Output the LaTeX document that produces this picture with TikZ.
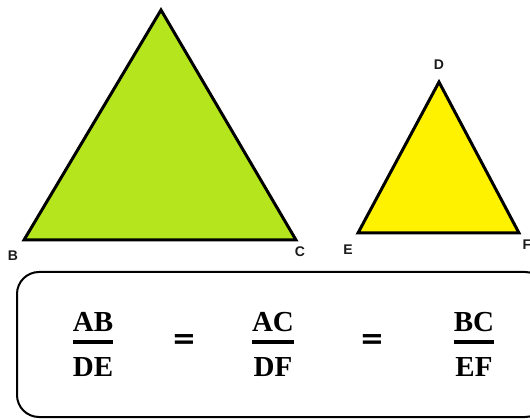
\documentclass[tikz,border=0pt]{standalone}
\usepackage{fontspec}
\usepackage{xcolor}
\usepackage{tikz}
\usetikzlibrary{positioning}
\newfontfamily\fracfont{Liberation Serif}
\newfontfamily\lblfont{Liberation Sans}
\newfontfamily\eqfont{DejaVu Sans}
\definecolor{bigCol}{HTML}{B5E61D}
\definecolor{smallCol}{HTML}{FFF200}
\definecolor{lblCol}{HTML}{1A1A1A}
\tikzset{
  tri/.style={draw=black, line width=3pt, line join=miter},
  vlbl/.style={font=\fontsize{14}{14}\lblfont\bfseries, text=lblCol, inner sep=0pt},
  fracpart/.style={font=\fontsize{29}{30}\fracfont\bfseries, inner sep=0pt},
  fracbar/.style={line width=3.2pt},
  eqsign/.style={font=\fontsize{29}{30}\eqfont\bfseries, inner sep=0pt},
  ratiobox/.style={draw, line width=2pt, rounded corners=22pt, minimum width=530pt, minimum height=145pt, inner sep=0pt},
}
\begin{document}
\begin{tikzpicture}[x=1pt,y=-1pt]
  \useasboundingbox (0,0) rectangle (530,419);
  \clip (0,0) rectangle (530,419);
  % triangles
  \coordinate (A) at (161,10);
  \coordinate (B) at (24,240);
  \coordinate (C) at (296,240);
  \coordinate (D) at (439,82);
  \coordinate (E) at (358,233);
  \coordinate (F) at (519,233);
  \draw[tri, fill=bigCol] (A) -- (B) -- (C) -- cycle;
  \draw[tri, fill=smallCol] (D) -- (E) -- (F) -- cycle;
  \node[vlbl] (lB) at (13,256) {B};
  \node[vlbl] (lC) at (300,252) {C};
  \node[vlbl] (lD) at (439,65) {D};
  \node[vlbl] (lE) at (348,250) {E};
  \node[vlbl] (lF) at (527,245) {F};
  % ratios
  \node[ratiobox] (box) at (282,344.5) {};
  \foreach \nm/\x/\up/\dn in {r1/93/AB/DE, r2/273/AC/DF, r3/474/BC/EF}{
    \node[fracpart] (\nm n) at (\x,322) {\up};
    \node[fracpart] (\nm d) at (\x,367) {\dn};
    \draw[fracbar] ([yshift=-20pt]\nm n.west) -- ([yshift=-20pt]\nm n.east);
  }
  \node[eqsign] (eq1) at (184,342) {=};
  \node[eqsign] (eq2) at (372,342) {=};
\end{tikzpicture}
\end{document}
